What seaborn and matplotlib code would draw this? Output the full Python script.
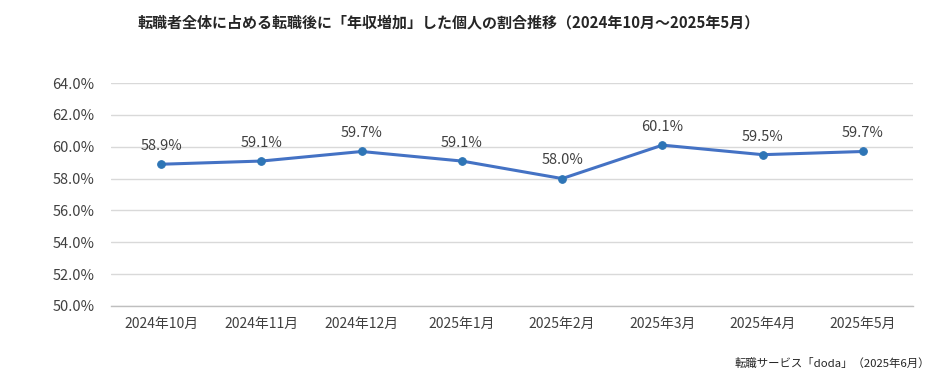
import matplotlib
matplotlib.use("Agg")
import matplotlib.pyplot as plt
import seaborn as sns
import pandas as pd
import numpy as np
from matplotlib.ticker import MultipleLocator, FixedLocator, PercentFormatter

months = ["2024年10月", "2024年11月", "2024年12月", "2025年1月",
          "2025年2月", "2025年3月", "2025年4月", "2025年5月"]
ratio = [58.9, 59.1, 59.7, 59.1, 58.0, 60.1, 59.5, 59.7]

title = "転職者全体に占める転職後に「年収増加」した個人の割合推移（2024年10月～2025年5月）"
source = "転職サービス「doda」（2025年6月）"

sns.set_theme(style="white")
plt.rcParams['font.family'] = ['Noto Sans CJK JP', 'DejaVu Sans']

df = pd.DataFrame({"month": months, "ratio": ratio})

fig = plt.figure(figsize=(9.45, 3.89), dpi=100)
ax = fig.add_axes([0.1175, 0.2134, 0.8487, 0.5732])

# 折れ線とマーカー
sns.lineplot(data=df, x="month", y="ratio", ax=ax, color="#4472C4",
             linewidth=2.2, marker="o", markersize=5.5,
             markerfacecolor="#2E75B6", markeredgecolor="#2E75B6", sort=False)

# データラベル
for i, v in enumerate(ratio):
    ax.annotate(f"{v:.1f}%", (i, v), textcoords="offset points", xytext=(0, 8),
                ha="center", va="bottom", fontsize=10.5, color="#404040")

ax.set_ylim(50, 64)
ax.set_xlim(-0.5, len(months) - 0.5)
ax.yaxis.set_major_locator(MultipleLocator(2))
ax.yaxis.set_major_formatter(PercentFormatter(decimals=1))
ax.grid(axis="y", color="#D9D9D9", linewidth=1)
ax.set_axisbelow(True)
ax.set_xlabel("")
ax.set_ylabel("")

for s in ["top", "right", "left"]:
    ax.spines[s].set_visible(False)
ax.spines["bottom"].set_color("#BFBFBF")
ax.spines["bottom"].set_linewidth(1)

ax.tick_params(axis="y", length=0, labelsize=10.5, labelcolor="#404040", pad=12)
ax.tick_params(axis="x", which="major", length=0, labelsize=10, labelcolor="#404040", pad=8)
ax.xaxis.set_minor_locator(FixedLocator(np.arange(-0.5, len(months), 1.0)))
ax.tick_params(axis="x", which="minor", length=5, color="#BFBFBF", width=1)

fig.text(137 / 945, 1 - 22 / 389, title, ha="left", va="center",
         fontsize=10.8, fontweight="bold", color="#262626")
fig.text(930 / 945, 1 - 363 / 389, source, ha="right", va="center",
         fontsize=8.2, color="#262626")

fig.savefig("out.png", dpi=100)
